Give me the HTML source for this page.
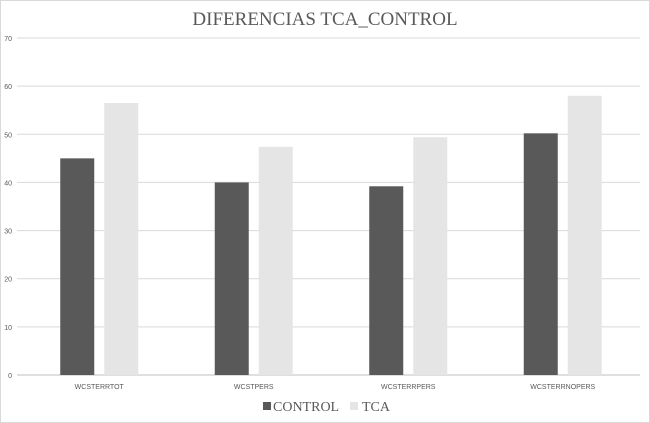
<!DOCTYPE html>
<html><head><meta charset="utf-8"><style>
body{margin:0;background:#fff;}
svg{display:block;font-family:"Liberation Sans",sans-serif;}
</style></head><body>
<svg id="c" width="650" height="423">
<rect x="0.5" y="0.5" width="649" height="422" fill="#fff" stroke="#d9d9d9"/>
<text x="325" y="25" text-anchor="middle" font-family="Liberation Serif,serif" font-size="19" fill="#595959">DIFERENCIAS TCA_CONTROL</text>
<g id="grid"></g><g id="bars"></g><g id="labels"></g>
<g>
<rect x="263" y="402" width="8" height="8" fill="#595959"/>
<text x="273" y="411" font-family="Liberation Serif,serif" font-size="14" fill="#595959">CONTROL</text>
<rect x="350" y="402" width="8" height="8" fill="#e5e5e5"/>
<text x="362" y="411" font-family="Liberation Serif,serif" font-size="14" fill="#595959">TCA</text>
</g>
</svg>
<script>
const categories=["WCSTERRTOT","WCSTPERS","WCSTERRPERS","WCSTERRNOPERS"];
const controlValues=[45,40,39.2,50.2];
const tcaValues=[56.5,47.4,49.4,58];
const yTicks=[0,10,20,30,40,50,60,70];
const ns="http://www.w3.org/2000/svg";
const x0=22,x1=640,y0=375,y1=38,yMax=70;
const y=v=>y0-(v/yMax)*(y0-y1);
const bw=(x1-x0)/categories.length;
const grid=document.getElementById('grid'),bars=document.getElementById('bars'),labels=document.getElementById('labels');
function mk(t,a,p){const e=document.createElementNS(ns,t);for(const k in a)e.setAttribute(k,a[k]);p.appendChild(e);return e;}
yTicks.forEach(t=>{
 const l=mk('line',{x1:17,x2:x1,y1:y(t),y2:y(t),stroke:t===0?'#bfbfbf':'#d9d9d9','stroke-width':1},grid);
 
 
 const tx=mk('text',{x:12,y:y(t)+3,'text-anchor':'end','font-size':7,fill:'#595959'},grid);
 tx.textContent=t;
 
 
});
categories.forEach((c,i)=>{
 const cx=x0+bw*(i+0.5);
 const r1=mk('rect',{x:cx-39,y:y(controlValues[i]),width:34,height:y0-y(controlValues[i]),fill:'#595959'},bars);
 
 
 const r2=mk('rect',{x:cx+5,y:y(tcaValues[i]),width:34,height:y0-y(tcaValues[i]),fill:'#e5e5e5'},bars);
 
 
 const t=mk('text',{x:cx,y:389,'text-anchor':'middle','font-size':7,fill:'#595959'},labels);
 t.textContent=c;
 
 
});
</script>
</body></html>
